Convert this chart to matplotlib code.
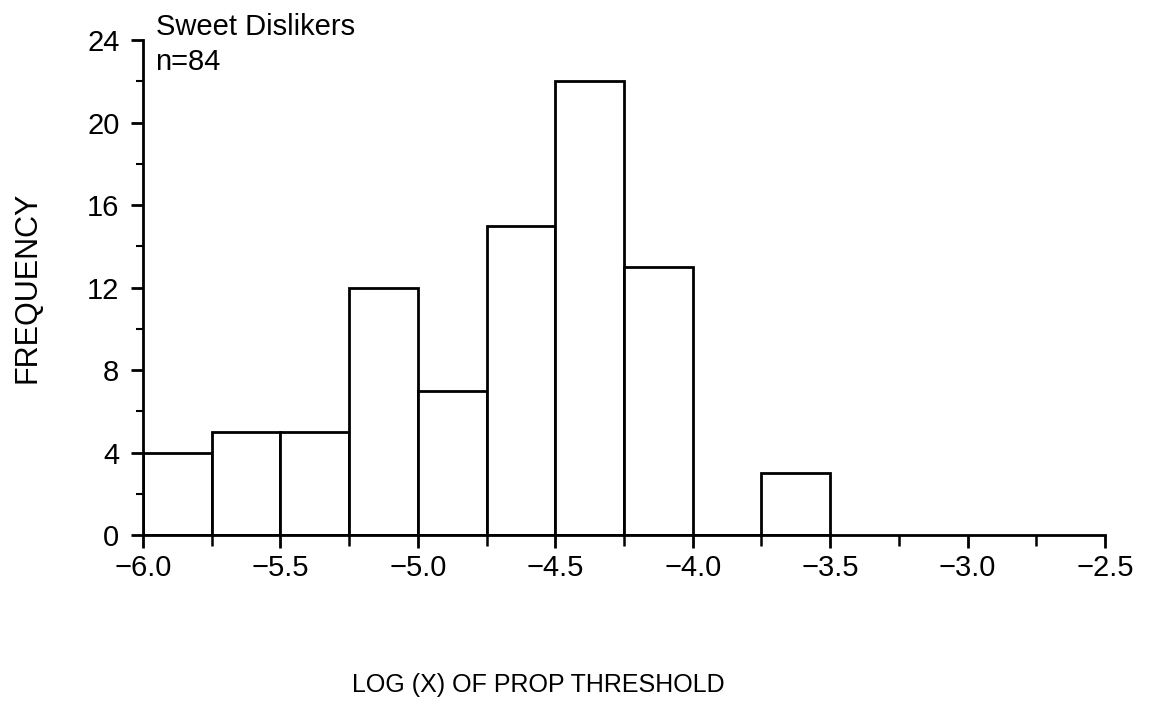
import matplotlib
matplotlib.use("Agg")
import matplotlib.pyplot as plt
import numpy as np

plt.rcParams['font.family'] = ['Liberation Sans', 'DejaVu Sans']

# Histogram bins (left edges, width 0.25) and counts
bin_left = [-6.0, -5.75, -5.5, -5.25, -5.0, -4.75, -4.5, -4.25, -4.0, -3.75]
counts = [4, 5, 5, 12, 7, 15, 22, 13, 0, 3]
bin_width = 0.25

x_ticks = [-6.0, -5.5, -5.0, -4.5, -4.0, -3.5, -3.0, -2.5]
x_tick_labels = ['\u22126.0', '\u22125.5', '\u22125.0', '\u22124.5', '\u22124.0', '\u22123.5', '\u22123.0', '\u22122.5']
y_ticks = [0, 4, 8, 12, 16, 20, 24]

fig = plt.figure(figsize=(11.59, 7.04), dpi=100)
ax = fig.add_axes([0.1234, 0.240, 0.830, 0.703])

ax.bar(bin_left, counts, width=bin_width, align='edge',
       facecolor='white', edgecolor='black', linewidth=2.0, zorder=2)

ax.set_xlim(-6.0, -2.5)
ax.set_ylim(0, 24)
ax.set_xticks(x_ticks)
ax.set_xticklabels(x_tick_labels)
ax.set_xticks(np.arange(-6.0, -2.49, 0.25), minor=True)
ax.set_yticks(y_ticks)
ax.set_yticks(np.arange(0, 24.1, 2), minor=True)

for side in ['top', 'right']:
    ax.spines[side].set_visible(False)
for side in ['left', 'bottom']:
    ax.spines[side].set_linewidth(2.0)

ax.tick_params(axis='both', which='major', direction='out', length=9, width=2.0,
               labelsize=21)
ax.tick_params(axis='x', which='major', pad=5)
ax.tick_params(axis='y', which='major', pad=8)
ax.tick_params(axis='x', which='minor', direction='out', length=8, width=1.8)
ax.tick_params(axis='y', which='minor', direction='out', length=5, width=1.5)

ax.set_ylabel('FREQUENCY', fontsize=22, labelpad=32)
ax.set_xlabel('LOG (X) OF PROP THRESHOLD', fontsize=18)
ax.xaxis.set_label_coords(0.411, -0.303)
ax.xaxis.label.set_va('center')

ax.text(0.013, 1.027, 'Sweet Dislikers', transform=ax.transAxes,
        fontsize=21, va='center', ha='left')
ax.text(0.013, 0.955, 'n=84', transform=ax.transAxes,
        fontsize=21, va='center', ha='left')

fig.savefig('out.png', dpi=100, facecolor='white')
